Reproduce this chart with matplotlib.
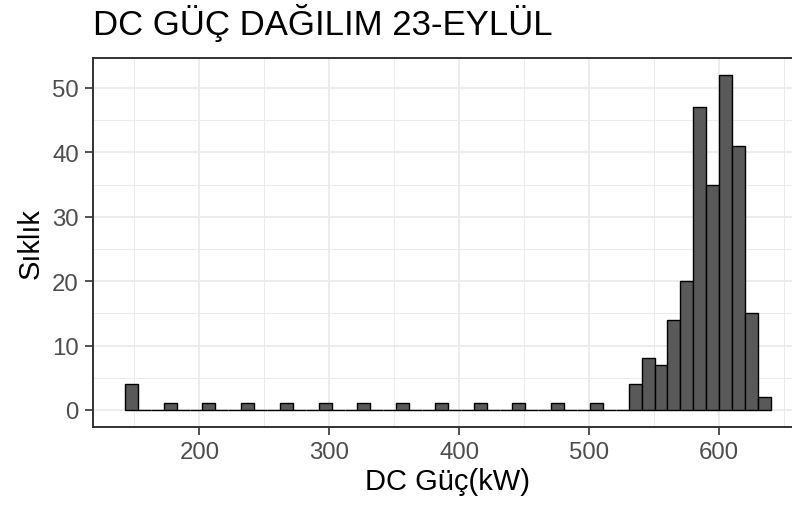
import numpy as np
import matplotlib
matplotlib.use("Agg")
import matplotlib.pyplot as plt
from matplotlib.ticker import MultipleLocator

# ---- data (histogram of DC power, 50 bins) ----
bin_start = 142.7
bin_width = 9.94
counts = [4, 0, 0, 1, 0, 0, 1, 0, 0, 1,
          0, 0, 1, 0, 0, 1, 0, 0, 1, 0,
          0, 1, 0, 0, 1, 0, 0, 1, 0, 0,
          1, 0, 0, 1, 0, 0, 1, 0, 0, 4,
          8, 7, 14, 20, 47, 35, 52, 41, 15, 2]
x_ticks = [200, 300, 400, 500, 600]
y_ticks = [0, 10, 20, 30, 40, 50]
title = "DC GÜÇ DAĞILIM 23-EYLÜL"
xlabel = "DC Güç(kW)"
ylabel = "Sıklık"

plt.rcParams['font.family'] = ['Liberation Sans', 'DejaVu Sans']

counts = np.array(counts)
edges = bin_start + bin_width * np.arange(len(counts) + 1)
centers = (edges[:-1] + edges[1:]) / 2

fig = plt.figure(figsize=(7.92, 5.10), dpi=100)
ax = fig.add_axes([0.1170, 0.1614, 0.897, 0.7224])

ax.bar(centers, counts, width=bin_width, color="#595959", edgecolor="black",
       linewidth=1.0, zorder=3)

xr = edges[-1] - edges[0]
ax.set_xlim(edges[0] - 0.05 * xr, edges[-1] + 0.05 * xr)
ymax = counts.max()
ax.set_ylim(-0.05 * ymax, ymax * 1.05)

ax.set_xticks(x_ticks)
ax.set_yticks(y_ticks)
ax.xaxis.set_minor_locator(MultipleLocator(50))
ax.yaxis.set_minor_locator(MultipleLocator(5))
ax.grid(which="major", color="#EBEBEB", linewidth=1.3, zorder=0)
ax.grid(which="minor", color="#EBEBEB", linewidth=0.7, zorder=0)
ax.set_axisbelow(True)

for s in ax.spines.values():
    s.set_color("#333333")
    s.set_linewidth(1.4)

ax.tick_params(which="major", length=6, width=1.2, color="#333333",
               labelsize=17.3, labelcolor="#4D4D4D", pad=4)
ax.tick_params(which="minor", length=0)

ax.set_xlabel(xlabel, fontsize=21, color="black", labelpad=3)
ax.set_ylabel(ylabel, fontsize=21, color="black", labelpad=5)

fig.text(93.3 / 792, 1 - 35 / 510, title, fontsize=25, color="black",
         ha="left", va="baseline")

fig.savefig("out.png", dpi=100)
